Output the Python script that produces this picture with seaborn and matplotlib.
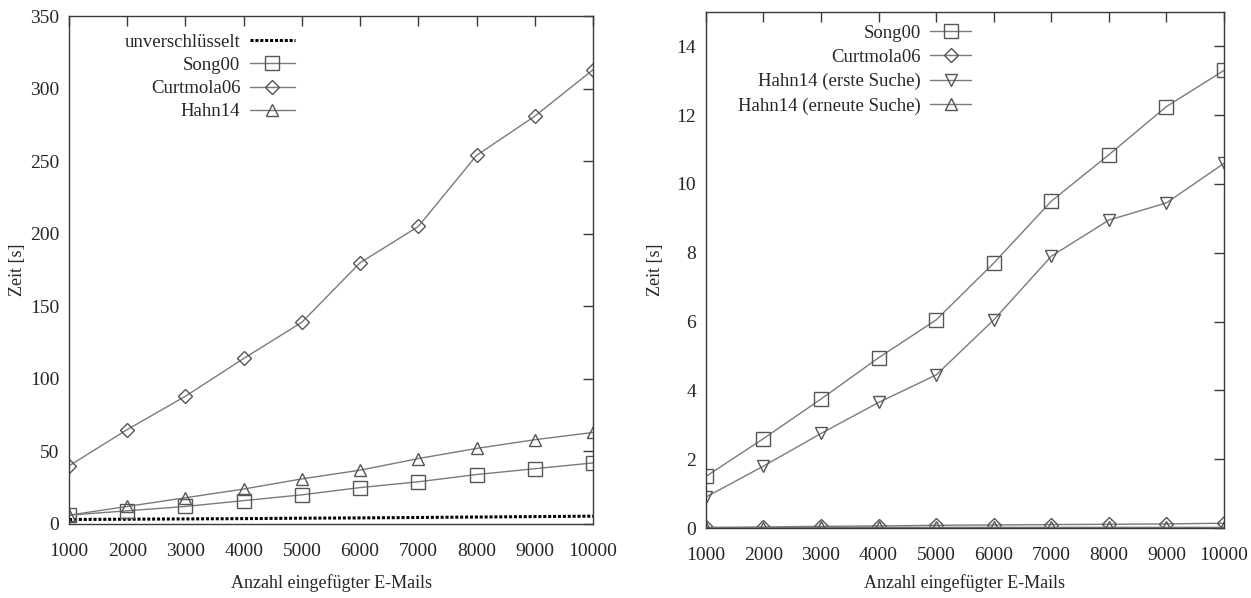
import matplotlib

matplotlib.use("Agg")

import numpy as np
import pandas as pd
import matplotlib.pyplot as plt
import seaborn as sns

# ------------------------------------------------------------------
# Data
# ------------------------------------------------------------------
emails = [1000, 2000, 3000, 4000, 5000, 6000, 7000, 8000, 9000, 10000]

# left panel: Einfügen
left_plain = [3, 3.2, 3.4, 3.6, 3.9, 4.1, 4.4, 4.7, 5.0, 5.3]
left_song = [6, 9, 12, 16, 20, 25, 29, 34, 38, 42]
left_curtmola = [40, 65, 88, 114, 139, 180, 205, 254, 281, 313]
left_hahn = [6, 12, 18, 24, 31, 37, 45, 52, 58, 63]

# right panel: Suche
right_song = [1.5, 2.6, 3.75, 4.95, 6.05, 7.7, 9.5, 10.85, 12.25, 13.3]
right_curtmola = [0.02, 0.03, 0.05, 0.06, 0.08, 0.09, 0.10, 0.11, 0.12, 0.14]
right_hahn_first = [0.9, 1.8, 2.75, 3.65, 4.45, 6.05, 7.9, 8.95, 9.45, 10.6]
right_hahn_again = [0.01, 0.01, 0.02, 0.02, 0.02, 0.02, 0.02, 0.02, 0.02, 0.02]

left_ticks = [0, 50, 100, 150, 200, 250, 300, 350]
right_ticks = [0, 2, 4, 6, 8, 10, 12, 14]

sns.set_theme(style="white")
plt.rcParams["font.family"] = ["Liberation Serif", "DejaVu Serif"]

LINE = "#7a7a7a"
EDGE = "#555555"
FRAME = "#3a3a3a"

fig = plt.figure(figsize=(12.51, 5.98), dpi=100)
ax1 = fig.add_axes([0.0552, 0.124, 0.4188, 0.849])
ax2 = fig.add_axes([0.5643, 0.117, 0.4141, 0.863])


def draw(ax, y, label, marker, ms):
    df = pd.DataFrame({"x": emails, "y": y})
    sns.lineplot(
        data=df, x="x", y="y", ax=ax, color=LINE, linewidth=1.0,
        marker=marker, markersize=ms, markerfacecolor="none",
        markeredgecolor=EDGE, markeredgewidth=1.0, label=label,
    )


# left
df_plain = pd.DataFrame({"x": emails, "y": left_plain})
sns.lineplot(data=df_plain, x="x", y="y", ax=ax1, color="black",
             linewidth=2.2, linestyle=(0, (1, 0.6)), label="unverschlüsselt")
draw(ax1, left_song, "Song00", "s", 10)
draw(ax1, left_curtmola, "Curtmola06", "D", 7.5)
draw(ax1, left_hahn, "Hahn14", "^", 9)
ax1.set_ylim(0, 350)
ax1.set_yticks(left_ticks)

# right
draw(ax2, right_song, "Song00", "s", 10)
draw(ax2, right_curtmola, "Curtmola06", "D", 7.5)
draw(ax2, right_hahn_first, "Hahn14 (erste Suche)", "v", 9)
draw(ax2, right_hahn_again, "Hahn14 (erneute Suche)", "^", 9)
ax2.set_ylim(0, 15)
ax2.set_yticks(right_ticks)

for ax, ypad, xpad in ((ax1, 3, 10), (ax2, 9, 7)):
    ax.set_xlim(1000, 10000)
    ax.set_xticks(emails)
    ax.set_xlabel("Anzahl eingefügter E-Mails", fontsize=13, labelpad=xpad)
    ax.set_ylabel("Zeit [s]", fontsize=13, labelpad=ypad)
    ax.tick_params(direction="in", length=7, width=1.0, color=FRAME,
                   top=True, right=True, labelsize=14)
    ax.tick_params(axis="y", pad=7)
    ax.tick_params(axis="x", pad=14)
    for s in ax.spines.values():
        s.set_color(FRAME)
        s.set_linewidth(1.0)
    ax.grid(False)

leg1 = ax1.legend(loc="upper right", bbox_to_anchor=(0.445, 0.98),
                  markerfirst=False, frameon=False, fontsize=13.5,
                  handlelength=2.4, handletextpad=0.5, labelspacing=0.32,
                  borderaxespad=0)
leg2 = ax2.legend(loc="upper right", bbox_to_anchor=(0.527, 0.99),
                  markerfirst=False, frameon=False, fontsize=13.5,
                  handlelength=2.2, handletextpad=0.5, labelspacing=0.38,
                  borderaxespad=0)

fig.savefig("out.png", dpi=100)
plt.close("all")
